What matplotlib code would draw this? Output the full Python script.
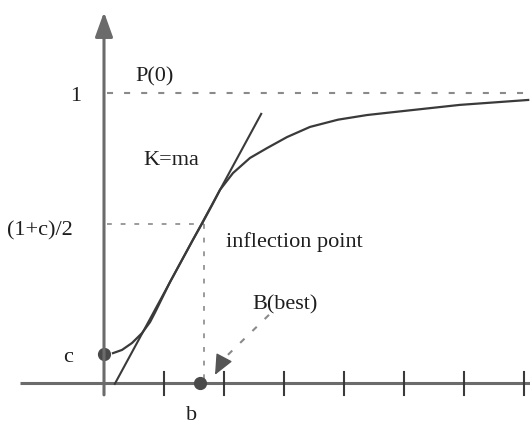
import matplotlib.pyplot as plt

# item characteristic curve (x in tick units, y in probability)
curve_x = [0.15, 0.30, 0.467, 0.633, 0.767, 0.85, 1.10, 1.48, 1.63, 1.80, 1.933,
           2.15, 2.433, 2.717, 3.05, 3.433, 3.90, 4.383, 4.82, 5.93, 7.07]
curve_y = [0.103, 0.114, 0.138, 0.172, 0.210, 0.243, 0.348, 0.493, 0.548, 0.613, 0.666,
           0.724, 0.776, 0.810, 0.848, 0.883, 0.908, 0.924, 0.934, 0.959, 0.976]

# tangent at the inflection point
tangent_x = [0.18, 2.62]
tangent_y = [-0.003, 0.928]

c = 0.1
b = 1.6
infl_x, infl_y = 1.67, 0.55
tick_pos = [1, 2, 3, 4, 5, 6, 7]

plt.rcParams["font.family"] = ["Liberation Serif", "DejaVu Serif"]

fig = plt.figure(figsize=(5.3, 4.24), dpi=100)
ax = fig.add_axes([0, 0, 1, 1])
ax.set_xlim(-104 / 60, 426 / 60)
ax.set_ylim(-41 / 290, 383 / 290)
ax.axis("off")

axis_col = "#6b6b6b"
line_col = "#3a3a3a"
dash_col = "#8a8a8a"
dash = (0, (2.9, 5.3))

# axes with arrow on y
ax.plot([-1.4, 7.1], [0, 0], color=axis_col, lw=2.2, solid_capstyle="butt")
ax.annotate("", xy=(0, 1.279), xytext=(0, -0.041),
            arrowprops=dict(arrowstyle="-|>,head_length=1.0,head_width=0.36",
                            mutation_scale=15, color=axis_col, lw=2.2,
                            shrinkA=0, shrinkB=0))
for t in tick_pos:
    ax.plot([t, t], [-0.041, 0.038], color=line_col, lw=1.5)

# guide lines
ax.plot([0.05, 7.1], [1, 1], color=dash_col, lw=1.5, ls=dash)
ax.plot([0.05, infl_x], [infl_y, infl_y], color=dash_col, lw=1.2, ls=dash)
ax.plot([infl_x, infl_x], [infl_y, 0.01], color=dash_col, lw=1.2, ls=dash)

# curve and tangent
ax.plot(tangent_x, tangent_y, color=line_col, lw=1.5)
ax.plot(curve_x, curve_y, color=line_col, lw=1.6, solid_joinstyle="round")

# points c and b
ax.plot([0], [c], "o", color="#4a4a4a", ms=8.5)
ax.plot([b], [0], "o", color="#4a4a4a", ms=8.5)

# B(best) arrow
ax.plot([2.75, 1.98], [0.235, 0.08], color=dash_col, lw=1.5, ls=dash)
ax.annotate("", xy=(1.85, 0.028), xytext=(1.97, 0.075),
            arrowprops=dict(arrowstyle="-|>,head_length=0.9,head_width=0.4",
                            mutation_scale=14, color="#555555", lw=1,
                            shrinkA=0, shrinkB=0))

fs = 16
tc = "#1e1e1e"
ax.text(0.517, 1.038, "P(0)", fontsize=fs, va="baseline", color=tc)
ax.text(-0.467, 0.972, "1", fontsize=fs, ha="center", va="baseline", color=tc)
ax.text(0.65, 0.752, "K=ma", fontsize=fs, va="baseline", color=tc)
ax.text(-1.617, 0.510, "(1+c)/2", fontsize=fs, va="baseline", color=tc)
ax.text(2.033, 0.469, "inflection point", fontsize=fs, va="baseline", color=tc)
ax.text(2.467, 0.252, "B(best)", fontsize=fs, va="baseline", color=tc)
ax.text(-0.6, 0.072, "c", fontsize=fs, ha="center", va="baseline", color=tc)
ax.text(1.467, -0.128, "b", fontsize=fs, ha="center", va="baseline", color=tc)

fig.savefig("out.png", dpi=100)
